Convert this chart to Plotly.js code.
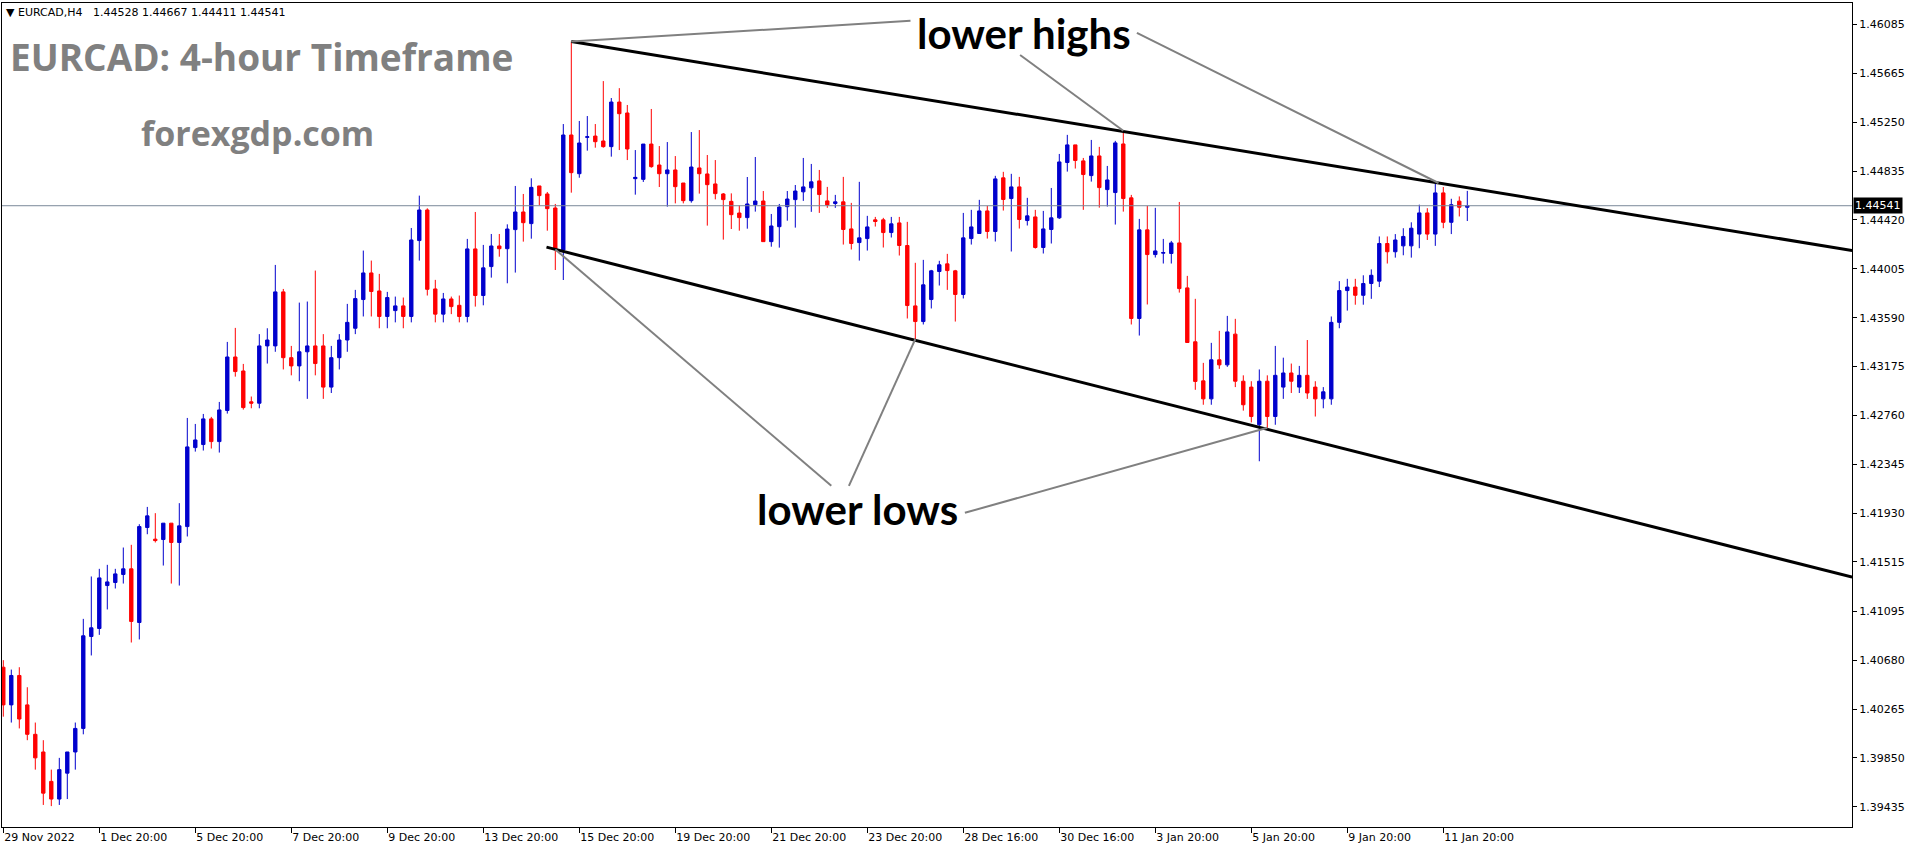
<!DOCTYPE html>
<html>
<head>
<meta charset="utf-8">
<script src="https://cdn.plot.ly/plotly-3.0.1.min.js"></script>
<style>
html,body{margin:0;padding:0;background:#fff;}
#chart{width:1916px;height:850px;}
</style>
</head>
<body>
<div id="chart"></div>
<script>
// ---- DATA (EURCAD H4) ----
const openP = [
1.4062,1.4030,1.4055,1.4030,1.4005,1.3990,1.3965,1.3950,1.3972,1.3990,
1.4010,1.40881,1.40949,1.41314,1.41340,1.41408,1.41456,1.41000,1.41807,1.41708,
1.41705,1.41844,1.41680,1.41815,1.42486,1.42512,1.42730,1.42537,1.42801,1.43256,
1.43137,1.42875,1.42863,1.4335,1.4335,1.43809,1.4325,1.4318,1.4330,1.4335,
1.4335,1.4300,1.4325,1.4340,1.4350,1.43744,1.43970,1.43817,1.4360,1.4365,
1.43690,1.4360,1.44245,1.44505,1.43834,1.4362,1.43749,1.43695,1.4360,1.44174,
1.43778,1.44024,1.44199,1.44176,1.44338,1.44488,1.44389,1.44709,1.44641,1.44522,
1.44165,1.45142,1.44813,1.45122,1.45133,1.45091,1.45043,1.45422,1.45329,1.44771,
1.44765,1.45065,1.44887,1.44813,1.44845,1.44734,1.44584,1.44862,1.44811,1.44726,
1.44641,1.44578,1.44479,1.44440,1.44550,1.44581,1.44236,1.44363,1.44533,1.44593,
1.44659,1.44693,1.44752,1.44582,1.44560,1.44574,1.44344,1.44228,1.44262,1.44421,
1.44421,1.44313,1.44395,1.44203,1.43690,1.43557,1.43744,1.43982,1.44047,1.43988,
1.43787,1.44262,1.44305,1.44497,1.44322,1.44778,1.44602,1.44701,1.44415,1.44446,
1.44186,1.44339,1.44438,1.44908,1.45058,1.44922,1.44797,1.44964,1.44678,1.44653,
1.45066,1.44608,1.43583,1.44336,1.44126,1.44138,1.44135,1.44225,1.43843,1.43385,
1.43053,1.4290,1.43232,1.43189,1.4345,1.4305,1.4300,1.4268,1.4305,1.4275,
1.4300,1.4312,1.4300,1.4310,1.4300,1.4290,1.4290,1.4355,1.4382,1.4385,
1.4378,1.4388,1.4390,1.4422,1.4415,1.4420,1.4420,1.4430,1.4448,1.4430,
1.4465,1.4440,1.4458,1.44528];
const highP = [
1.4068,1.4060,1.4062,1.4045,1.4015,1.4000,1.3975,1.3985,1.3990,1.4015,
1.41031,1.41391,1.41456,1.41490,1.41456,1.41637,1.41660,1.41835,1.41982,1.41929,
1.41844,1.41844,1.42014,1.42738,1.42687,1.42772,1.42747,1.42874,1.43384,1.43503,
1.43197,1.4292,1.4345,1.4350,1.44038,1.43834,1.4335,1.43718,1.43727,1.43990,
1.4345,1.4335,1.4345,1.43707,1.43826,1.44160,1.44075,1.43962,1.43809,1.43769,
1.43761,1.44352,1.44627,1.44519,1.43911,1.4380,1.43769,1.43778,1.44259,1.44488,
1.44208,1.44301,1.44301,1.44383,1.44709,1.44641,1.44774,1.44709,1.44658,1.44556,
1.45235,1.45936,1.45261,1.45303,1.45235,1.4560,1.45456,1.4554,1.45397,1.45014,
1.45065,1.45363,1.45048,1.45082,1.44963,1.44734,1.45167,1.45184,1.44972,1.44929,
1.44649,1.44646,1.44544,1.44785,1.44955,1.44666,1.44471,1.44556,1.44666,1.44717,
1.44947,1.44896,1.44845,1.44701,1.44633,1.44786,1.44565,1.44744,1.44455,1.44446,
1.44438,1.44446,1.44446,1.44404,1.44056,1.44081,1.43996,1.44073,1.44132,1.43996,
1.44480,1.44506,1.44591,1.44540,1.44795,1.44829,1.44812,1.44786,1.44608,1.44506,
1.44497,1.44692,1.44981,1.45143,1.45058,1.44947,1.45100,1.45041,1.44879,1.45092,
1.45178,1.44633,1.44429,1.44540,1.44523,1.44259,1.44242,1.44573,1.43945,1.43750,
1.43206,1.43376,1.43478,1.43605,1.4358,1.4310,1.4305,1.4315,1.4310,1.4335,
1.4325,1.4320,1.4318,1.4340,1.4305,1.4300,1.4360,1.4390,1.4392,1.4392,
1.4395,1.4400,1.4428,1.4428,1.4430,1.4435,1.4440,1.4455,1.4452,1.44734,
1.4470,1.4460,1.4462,1.44667];
const lowP = [
1.4020,1.4015,1.4010,1.4000,1.3975,1.3945,1.3944,1.3945,1.3950,1.3975,
1.4005,1.40720,1.40895,1.41111,1.41289,1.41331,1.40830,1.40856,1.41750,1.41680,
1.41484,1.41331,1.41314,1.41731,1.42452,1.42461,1.42478,1.42444,1.42775,1.43089,
1.42809,1.4282,1.4282,1.4320,1.4330,1.4315,1.4310,1.4305,1.4290,1.4310,
1.4290,1.4295,1.4315,1.4330,1.4345,1.4360,1.4360,1.4350,1.4350,1.4355,
1.4350,1.4355,1.44075,1.43778,1.4355,1.4355,1.4362,1.4355,1.4355,1.43684,
1.43695,1.43930,1.44108,1.43882,1.43973,1.44236,1.44261,1.44544,1.44329,1.43995,
1.43910,1.44652,1.44779,1.45009,1.45034,1.45034,1.44958,1.45014,1.44929,1.44635,
1.44743,1.44864,1.44700,1.44533,1.44561,1.44561,1.44567,1.44644,1.44372,1.44595,
1.44253,1.44343,1.44329,1.44346,1.44491,1.44236,1.44193,1.44185,1.44414,1.44355,
1.44582,1.44489,1.44480,1.44523,1.44523,1.44211,1.44169,1.44075,1.44160,1.44364,
1.44186,1.44271,1.44118,1.43583,1.43407,1.43532,1.43668,1.43863,1.43826,1.43557,
1.43753,1.44211,1.44305,1.44262,1.44237,1.44500,1.44152,1.44347,1.44373,1.44177,
1.44135,1.44220,1.44429,1.44831,1.44857,1.44506,1.44746,1.44525,1.44534,1.44381,
1.44491,1.43532,1.43438,1.43702,1.44101,1.44050,1.44050,1.43803,1.43379,1.42977,
1.4285,1.4285,1.43155,1.43172,1.4300,1.4280,1.4270,1.4237,1.42654,1.4268,
1.4290,1.4295,1.4295,1.4290,1.4275,1.4282,1.4285,1.4350,1.4365,1.4370,
1.4370,1.4375,1.4385,1.4405,1.4410,1.4412,1.4410,1.4418,1.4425,1.4420,
1.4435,1.4430,1.4445,1.44411];
const closeP = [
1.4030,1.4055,1.4018,1.4005,1.3985,1.3955,1.3950,1.3975,1.3990,1.4010,
1.40887,1.40955,1.41379,1.41345,1.41413,1.41456,1.41009,1.41815,1.41906,1.41696,
1.41844,1.41680,1.41821,1.42492,1.42551,1.42730,1.42537,1.42806,1.43256,1.43132,
1.42826,1.42863,1.4335,1.4340,1.43809,1.4325,1.4318,1.4330,1.4335,1.4320,
1.4300,1.4325,1.4340,1.4355,1.43752,1.43970,1.43812,1.4360,1.43761,1.43690,
1.4360,1.44250,1.44505,1.43831,1.4362,1.43749,1.43684,1.4360,1.44174,1.43778,
1.44013,1.44199,1.44176,1.44343,1.44488,1.44397,1.44697,1.44627,1.44516,1.44171,
1.45142,1.44822,1.45074,1.45127,1.45085,1.45043,1.45422,1.45323,1.45023,1.44782,
1.45065,1.44873,1.44813,1.44845,1.44703,1.44584,1.44870,1.44813,1.44720,1.44644,
1.44593,1.44465,1.44440,1.44556,1.44581,1.44236,1.44369,1.44530,1.44598,1.44666,
1.44701,1.44744,1.44636,1.44548,1.44574,1.44339,1.44220,1.44268,1.44361,1.44407,
1.44313,1.44387,1.44203,1.43693,1.43557,1.43869,1.43988,1.44039,1.43990,1.43787,
1.44268,1.44361,1.44497,1.44322,1.44769,1.44594,1.44701,1.44424,1.44455,1.44186,
1.44344,1.44438,1.44913,1.45058,1.44925,1.44806,1.44964,1.44695,1.44760,1.45075,
1.44602,1.43583,1.44336,1.44126,1.44157,1.44143,1.44225,1.43837,1.43379,1.43048,
1.4290,1.43232,1.43189,1.43469,1.4305,1.4285,1.4275,1.4305,1.4275,1.4310,
1.4312,1.4305,1.4310,1.4295,1.4290,1.4296,1.4355,1.4382,1.4385,1.4378,
1.4388,1.4395,1.4422,1.4415,1.4425,1.4428,1.4435,1.4448,1.4430,1.4465,
1.4440,1.4455,1.44528,1.44541];

const tickBars = [0,12,24,36,48,60,72,84,96,108,120,132,144,156,168,180];
const tickLabels = ['29 Nov 2022','1 Dec 20:00','5 Dec 20:00','7 Dec 20:00','9 Dec 20:00',
  '13 Dec 20:00','15 Dec 20:00','19 Dec 20:00','21 Dec 20:00','23 Dec 20:00',
  '28 Dec 16:00','30 Dec 16:00','3 Jan 20:00','5 Jan 20:00','9 Jan 20:00','11 Jan 20:00'];
const priceTicks = [1.46085,1.45665,1.45250,1.44835,1.44420,1.44005,1.43590,1.43175,
  1.42760,1.42345,1.41930,1.41515,1.41095,1.40680,1.40265,1.39850,1.39435];
const lastPrice = 1.44541;
const header = '\u25BC EURCAD,H4\u00A0\u00A0 1.44528 1.44667 1.44411 1.44541';

// trend lines (bar index, price)
const upperLine = {x0:71, y0:1.45936, x1:231.1, y1:1.44161};
const lowerLine = {x0:67.9, y0:1.44189, x1:231.1, y1:1.41386};

// ---- LAYOUT HELPERS ----
const L=2, R=1852, T=3, B=827;
const px = x => (x-L)/(R-L);
const py = y => (B-y)/(B-T);

const bars = openP.map((_,i)=>i);

const trace = {
  type:'candlestick', x:bars, open:openP, high:highP, low:lowP, close:closeP,
  increasing:{line:{color:'#0000cd',width:1}, fillcolor:'#0000cd'},
  decreasing:{line:{color:'#ff0000',width:1}, fillcolor:'#ff0000'},
  whiskerwidth:0, showlegend:false, hoverinfo:'skip'
};

const grayLine = {color:'#808080', width:2};
const shapes = [
  {type:'line', xref:'paper', yref:'y', x0:0, x1:1, y0:lastPrice, y1:lastPrice, line:{color:'#7a8899', width:1}},
  {type:'line', xref:'x', yref:'y', x0:upperLine.x0, y0:upperLine.y0, x1:upperLine.x1, y1:upperLine.y1, line:{color:'#000', width:3}},
  {type:'line', xref:'x', yref:'y', x0:lowerLine.x0, y0:lowerLine.y0, x1:lowerLine.x1, y1:lowerLine.y1, line:{color:'#000', width:3}},
  // lower highs pointers
  {type:'line', xref:'x', yref:'y', x0:71, y0:highP[71], x1:113.4, y1:1.46112, line:grayLine},
  {type:'line', xref:'x', yref:'y', x0:127.1, y0:1.45822, x1:140, y1:highP[140], line:grayLine},
  {type:'line', xref:'x', yref:'y', x0:141.7, y0:1.46009, x1:179.4, y1:1.44734, line:grayLine},
  // lower lows pointers
  {type:'line', xref:'x', yref:'y', x0:103.5, y0:1.42161, x1:69, y1:1.44170, line:grayLine},
  {type:'line', xref:'x', yref:'y', x0:105.7, y0:1.42161, x1:114, y1:lowP[114], line:grayLine},
  {type:'line', xref:'x', yref:'y', x0:120.2, y0:1.41932, x1:158, y1:lowP[158], line:grayLine}
];

const annotations = [
  {xref:'paper', yref:'paper', x:px(4), y:py(13), xanchor:'left', yanchor:'middle', showarrow:false,
   text:header, font:{family:'DejaVu Sans', size:11, color:'#000'}},
  {xref:'paper', yref:'paper', x:px(8), y:py(57), xanchor:'left', yanchor:'middle', showarrow:false,
   text:'<b>EURCAD: 4-hour Timeframe</b>', font:{family:'Open Sans', size:37, color:'#808080'}},
  {xref:'paper', yref:'paper', x:px(257), y:py(133), xanchor:'center', yanchor:'middle', showarrow:false,
   text:'<b>forexgdp.com</b>', font:{family:'Open Sans', size:34, color:'#808080'}},
  {xref:'paper', yref:'paper', x:px(1024), y:py(33), xanchor:'center', yanchor:'middle', showarrow:false,
   text:'<b>lower highs</b>', font:{family:'Lato', size:42, color:'#000'}},
  {xref:'paper', yref:'paper', x:px(857), y:py(509), xanchor:'center', yanchor:'middle', showarrow:false,
   text:'<b>lower lows</b>', font:{family:'Lato', size:42, color:'#000'}},
  {xref:'paper', yref:'y', x:1, y:lastPrice, xanchor:'left', yanchor:'middle', xshift:1, showarrow:false,
   text:lastPrice.toFixed(5), bgcolor:'#000', borderpad:1, font:{family:'DejaVu Sans', size:11, color:'#fff'}}
];

const layout = {
  width:1916, height:850,
  margin:{l:L, r:1916-R, t:T, b:850-B, pad:0},
  paper_bgcolor:'#fff', plot_bgcolor:'#fff',
  showlegend:false, boxgap:0.4,
  xaxis:{
    type:'linear', range:[(L-3.3)/8, (R-3.3)/8], fixedrange:true,
    showgrid:false, zeroline:false, showline:true, linecolor:'#000', linewidth:1, mirror:true,
    ticks:'outside', ticklen:5, tickcolor:'#000', tickwidth:1,
    tickvals:tickBars, ticktext:tickLabels, ticklabelposition:'outside right',
    tickfont:{family:'DejaVu Sans', size:11, color:'#000'},
    rangeslider:{visible:false}
  },
  yaxis:{
    side:'right', range:[1.46085-(B-24)/11770, 1.46085+(24-T)/11770], fixedrange:true,
    showgrid:false, zeroline:false, showline:true, linecolor:'#000', linewidth:1, mirror:true,
    ticks:'outside', ticklen:4, tickcolor:'#000', tickwidth:1,
    tickvals:priceTicks, ticktext:priceTicks.map(v=>v.toFixed(5)),
    tickfont:{family:'DejaVu Sans', size:11, color:'#000'}
  },
  shapes:shapes,
  annotations:annotations
};

Plotly.newPlot('chart', [trace], layout, {staticPlot:true, displayModeBar:false});
</script>
</body>
</html>
